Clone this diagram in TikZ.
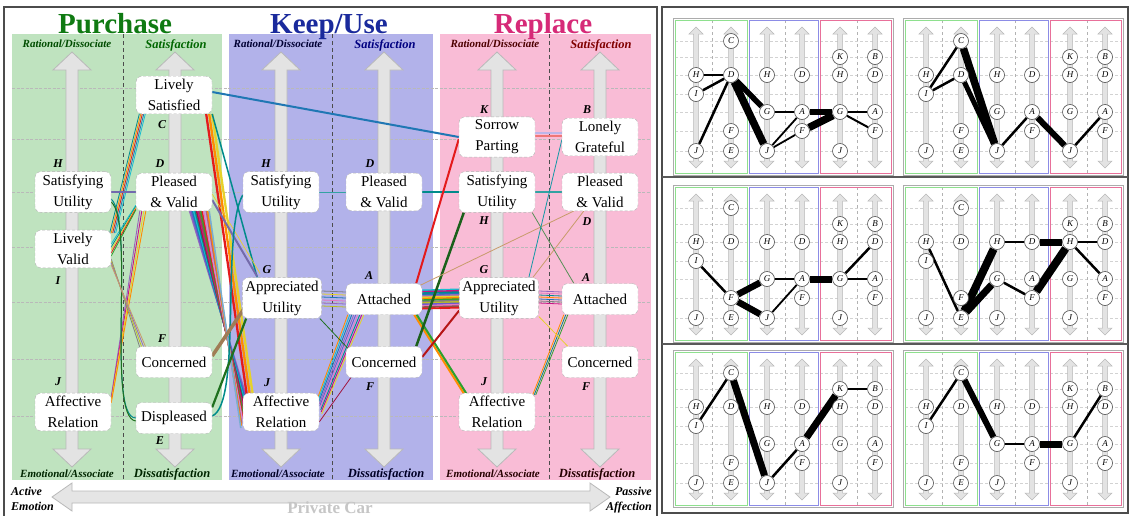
\documentclass[tikz,border=0pt]{standalone}
\usepackage{fontspec}
\setmainfont{Liberation Serif}
\usetikzlibrary{calc}
\pgfdeclarelayer{back}
\pgfdeclarelayer{mid}
\pgfsetlayers{back,mid,main}
\definecolor{bgG}{HTML}{BFE3BF}
\definecolor{bgB}{HTML}{B2B2EA}
\definecolor{bgP}{HTML}{F9BCD6}
\definecolor{tG}{HTML}{0F7A12}
\definecolor{tB}{HTML}{1A2A9C}
\definecolor{tP}{HTML}{D62A78}
\definecolor{mG}{HTML}{8EE08E}
\definecolor{mB}{HTML}{8C8CE6}
\definecolor{mP}{HTML}{E8709A}
\definecolor{c1}{HTML}{E41A1C}
\definecolor{c2}{HTML}{FF8C00}
\definecolor{c3}{HTML}{E6D22A}
\definecolor{c4}{HTML}{2CA02C}
\definecolor{c5}{HTML}{17BECF}
\definecolor{c6}{HTML}{1F77B4}
\definecolor{c7}{HTML}{9467BD}
\definecolor{c8}{HTML}{E377C2}
\definecolor{c9}{HTML}{8C564B}
\definecolor{c10}{HTML}{7F7F7F}
\definecolor{c11}{HTML}{BCBD22}
\definecolor{c12}{HTML}{008B8B}
\definecolor{c13}{HTML}{A0153E}
\definecolor{c14}{HTML}{C71585}
\definecolor{c15}{HTML}{6A5ACD}
\definecolor{c16}{HTML}{C89B6A}
\newcommand\bigvarrow[1]{%
  \filldraw[fill=gray!22, draw=gray!55, line width=0.8] (#1-6,70) -- (#1-19,70) -- (#1,52) -- (#1+19,70) -- (#1+6,70) -- (#1+6,449) -- (#1+19,449) -- (#1,467) -- (#1-19,449) -- (#1-6,449) -- cycle;}
\newcommand\minipanel[4]{%
\begin{scope}[shift={(#2,#3)}]
\begin{pgfonlayer}{back}
 \fill[white] (-2,-2) rectangle (218,155);
 \foreach \yy in {21,37,55,74,92,111,131} \draw[gray!35, line width=0.5, densely dashed] (0,\yy) -- (216,\yy);
 \foreach \xx in {37,110,182} \draw[gray!60, line width=0.5, dashed] (\xx,0) -- (\xx,153);
 \foreach \xx in {21,56,92,127,165,200} \filldraw[fill=gray!22, draw=gray!55, line width=0.5] (\xx-2.5,14) -- (\xx-7,14) -- (\xx,7) -- (\xx+7,14) -- (\xx+2.5,14) -- (\xx+2.5,141) -- (\xx+7,141) -- (\xx,148) -- (\xx-7,141) -- (\xx-2.5,141) -- cycle;
 \draw[gray!65, line width=1] (-2,-2) rectangle (218,155);
 \draw[mG, line width=0.9] (0,0) rectangle (72,153);
 \draw[mB, line width=0.9] (74,0) rectangle (143,153);
 \draw[mP, line width=0.9] (145,0) rectangle (216,153);
\end{pgfonlayer}
\foreach \mname/\mcol/\xx/\yy in {H/1/21/55, I/1/21/74, J/1/21/131, C/2/56/21, D/2/56/55, F/2/56/111, E/2/56/131, H/3/92/55, G/3/92/92, J/3/92/131, D/4/127/55, A/4/127/92, F/4/127/111, K/5/165/37, H/5/165/55, G/5/165/92, J/5/165/131, B/6/200/37, D/6/200/55, A/6/200/92, F/6/200/111}
  \node[mc] (#1\mname\mcol) at (\xx,\yy) {\mname};
\begin{pgfonlayer}{mid}
 \foreach \ea/\eb/\ew in {#4} \draw[line width=\ew] (#1\ea) -- (#1\eb);
\end{pgfonlayer}
\end{scope}}
\begin{document}
\begin{tikzpicture}[x=1pt,y=-1pt,
 nbox/.style={draw=gray!60, densely dashed, fill=white, rounded corners=6, align=center, font=\fontsize{15}{21}\selectfont, minimum width=76, minimum height=31, inner xsep=3, inner ysep=3},
 lett/.style={font=\fontsize{12}{12}\selectfont\bfseries\itshape, inner sep=0},
 hdr/.style={font=\fontsize{11}{11}\selectfont\bfseries\itshape, inner sep=0, anchor=base},
 hdrb/.style={font=\fontsize{12.5}{12.5}\selectfont\bfseries\itshape, inner sep=0, anchor=base},
 ttl/.style={font=\fontsize{29}{29}\selectfont\bfseries, inner sep=0, anchor=base},
 side/.style={font=\fontsize{12}{12}\selectfont\bfseries\itshape, inner sep=0},
 mc/.style={circle, draw=gray!60!black, fill=white, inner sep=0, minimum size=15, font=\fontsize{9}{9}\selectfont\itshape, line width=0.6},
 gridln/.style={gray!55, line width=0.6, dash pattern=on 3pt off 1.5pt},
 sepln/.style={gray!60!black, line width=1, dash pattern=on 4pt off 3pt},
]
\useasboundingbox (0,0) rectangle (1130,515);
\begin{pgfonlayer}{back}
 \fill[white] (0,0) rectangle (1130,515);
 \fill[bgG] (12,34) rectangle (222,480);
 \fill[bgB] (229,34) rectangle (433,480);
 \fill[bgP] (440,34) rectangle (651,480);
 \foreach \y in {88,139,192,247,302,359,416} \draw[gridln] (12,\y) -- (651,\y);
 \foreach \x in {123,332,549} \draw[sepln] (\x,34) -- (\x,480);
 \foreach \x in {72,175,281,384,497,600} \bigvarrow{\x};
 \filldraw[fill=gray!20, draw=gray!55, line width=0.8] (52,497) -- (72,483) -- (72,491) -- (590,491) -- (590,483) -- (610,497) -- (590,511) -- (590,503) -- (72,503) -- (72,511) -- cycle;
 \draw[line width=1.5, black!70] (4,7) rectangle (657,520);
 \draw[line width=1.5, black!70] (662,7) rectangle (1128,513);
 \draw[line width=2, black!65] (662,177) -- (1128,177);
 \draw[line width=2, black!65] (662,344) -- (1128,344);
\end{pgfonlayer}
% titles and headers
\node[ttl, text=tG] (t1) at (115,33) {Purchase};
\node[ttl, text=tB] (t2) at (329,33) {Keep/Use};
\node[ttl, text=tP] (t3) at (543,33) {Replace};
\node[hdr, text=green!30!black] (h1) at (67,47) {Rational/Dissociate};
\node[hdrb, text=green!40!black] (h2) at (176,48) {Satisfaction};
\node[hdr, text=blue!20!black] (h3) at (278,47) {Rational/Dissociate};
\node[hdrb, text=blue!50!black] (h4) at (385,48) {Satisfaction};
\node[hdr, text=red!30!black] (h5) at (495,47) {Rational/Dissociate};
\node[hdrb, text=red!50!black] (h6) at (601,48) {Satisfaction};
\node[hdr, text=green!15!black] (b1) at (67,477) {Emotional/Associate};
\node[hdrb, text=green!15!black] (b2) at (172,477) {Dissatisfaction};
\node[hdr, text=blue!15!black] (b3) at (278,477) {Emotional/Associate};
\node[hdrb, text=blue!15!black] (b4) at (386,477) {Dissatisfaction};
\node[hdr, text=red!15!black] (b5) at (493,477) {Emotional/Associate};
\node[hdrb, text=red!15!black] (b6) at (597,477) {Dissatisfaction};
\node[side, anchor=base west] (s1) at (11,495) {Active};
\node[side, anchor=base west] (s2) at (11,510) {Emotion};
\node[side, anchor=base east] (s3) at (652,495) {Passive};
\node[side, anchor=base east] (s4) at (652,510) {Affection};
\node[font=\fontsize{17}{17}\selectfont\bfseries, text=gray!45, anchor=base, inner sep=0] (pc) at (330,513) {Private Car};
% main nodes
\node[nbox] (pC) at (174,95) {Lively\\Satisfied};
\node[nbox] (pH) at (73,192) {Satisfying\\Utility};
\node[nbox] (pD) at (174,192) {Pleased\\\& Valid};
\node[nbox] (pI) at (73,249) {Lively\\Valid};
\node[nbox] (pF) at (174,362) {Concerned};
\node[nbox] (pJ) at (73,412) {Affective\\Relation};
\node[nbox] (pE) at (174,418) {Displeased};
\node[nbox] (kH) at (281,192) {Satisfying\\Utility};
\node[nbox] (kD) at (384,192) {Pleased\\\& Valid};
\node[nbox] (kG) at (282,298) {Appreciated\\Utility};
\node[nbox] (kA) at (384,299) {Attached};
\node[nbox] (kF) at (384,362) {Concerned};
\node[nbox] (kJ) at (281,412) {Affective\\Relation};
\node[nbox] (rK) at (497,137) {Sorrow\\Parting};
\node[nbox] (rB) at (600,137) {Lonely\\Grateful};
\node[nbox] (rH) at (497,192) {Satisfying\\Utility};
\node[nbox] (rD) at (600,192) {Pleased\\\& Valid};
\node[nbox] (rG) at (499,298) {Appreciated\\Utility};
\node[nbox] (rA) at (600,299) {Attached};
\node[nbox] (rF) at (600,362) {Concerned};
\node[nbox] (rJ) at (497,412) {Affective\\Relation};
% letters
\node[lett] (lpH) at (58,164) {H};
\node[lett] (lpI) at (58,281) {I};
\node[lett] (lpJ) at (58,382) {J};
\node[lett] (lpC) at (162,125) {C};
\node[lett] (lpD) at (160,164) {D};
\node[lett] (lpF) at (162,339) {F};
\node[lett] (lpE) at (160,441) {E};
\node[lett] (lkH) at (266,164) {H};
\node[lett] (lkG) at (267,270) {G};
\node[lett] (lkJ) at (267,383) {J};
\node[lett] (lkD) at (370,164) {D};
\node[lett] (lkA) at (369,276) {A};
\node[lett] (lkF) at (370,387) {F};
\node[lett] (lrK) at (484,110) {K};
\node[lett] (lrH) at (484,221) {H};
\node[lett] (lrG) at (484,270) {G};
\node[lett] (lrJ) at (484,382) {J};
\node[lett] (lrB) at (587,110) {B};
\node[lett] (lrD) at (587,222) {D};
\node[lett] (lrA) at (586,278) {A};
\node[lett] (lrF) at (586,387) {F};
% colored connectors
\begin{pgfonlayer}{mid}
 % purchase internal
 \foreach \c [count=\i] in {c12,c2,c1,c6,c5}
   \draw[\c, line width=0.8] ($(pI.north east)+(-3+\i*1.5,3)$) -- ($(pC.south west)+(2+\i*1.5,0)$);
 \draw[c15!60!gray, line width=1.5] (pH.east) -- (pD.west);
 \foreach \c [count=\i] in {c5,c12,c3,c1,c4}
   \draw[\c, line width=0.8] ($(pI.east)+(0,-8+\i*3)$) -- ($(pD.south west)+(0,-7+\i*1.2)$);
 \foreach \c [count=\i] in {c7,c14,c3,c2}
   \draw[\c, line width=0.9] ($(pJ.north east)+(0,2+\i*2)$) -- ($(pD.south west)+(2+\i*2,0)$);
 \foreach \c [count=\i] in {c12,c4!70!black}
   \draw[\c, line width=1] ($(pH.east)+(0,4+\i*3)$) .. controls ($(pH.east)+(24,30)$) and ($(pE.west)+(-30,0)$) .. ($(pE.west)+(0,-3+\i*3)$);
 \foreach \c [count=\i] in {c10,c11,c7,c16}
   \draw[\c, line width=0.8] ($(pI.east)+(0,8+\i*2)$) -- ($(pF.north west)+(2+\i*2,1)$);
 % purchase to keep/use and beyond
 \draw[c6, line width=2] ($(pC.east)+(0,-3)$) -- (rK.west);
 \foreach \c [count=\i] in {c7,c15,c6,c5,c12,c13,c14,c9,c4,c1,c8,c7!60,c13!70,c2,c6!60}
   \draw[\c, line width=1.6] ($(pD.south east)+(-24+\i*1.4,0)$) -- ($(kJ.north west)+(4-0.4*\i,2+2.2*\i)$);
 \foreach \c/\d in {c3/6,c2/3,c1/0}
   \draw[\c, line width=2.3] ($(pC.south east)+(-6+\d,0)$) -- ($(kJ.north west)+(4+\d,2)$);
 \draw[c12, line width=1.5] (pC.south east) -- ($(kG.north west)+(15,0)$);
 \draw[c15!55!gray, line width=2] ($(pD.east)+(0,8)$) -- ($(kG.north west)+(15,-1)$);
 \draw[c3, line width=0.7] ($(pD.east)+(0,2)$) -- ($(kG.north west)+(18,-4)$);
 \draw[c12, line width=1.5] ($(pE.east)+(0,-2)$) .. controls ($(pE.east)+(30,-15)$) and ($(kH.west)+(-22,40)$) .. ($(kH.west)+(0,3)$);
 \draw[c16!80!black, line width=3.5] ($(pF.east)+(0,-6)$) -- ($(kG.south west)+(2,-10)$);
 \draw[c4!70!black, line width=2.2] ($(pE.north east)+(0,5)$) -- ($(kG.south west)+(4,0)$);
 % keep/use internal
 \draw[c12!80, line width=1] (kH.east) -- (kD.west);
 \foreach \c [count=\i] in {c10,c3,c6,c8,c7,c11}
   \draw[\c, line width=0.8] ($(kG.east)+(0,-10+\i*3)$) -- ($(kA.west)+(0,-10+\i*3)$);
 \foreach \c [count=\i] in {c2,c5,c6,c7,c15,c8,c12,c14,c3}
   \draw[\c, line width=0.9] ($(kJ.north east)+(-2+\i*0.5,3+\i*2)$) -- ($(kA.south west)+(\i*2,0)$);
 \draw[c4!70!black, line width=0.8] ($(kG.south east)+(-2,0)$) -- ($(kF.north west)+(2,2)$);
 \draw[c13, line width=0.8] ($(kJ.east)+(0,10)$) -- ($(kF.south west)+(5,0)$);
 % keep/use to replace
 \draw[c12, line width=2] (kD.east) -- (rH.west);
 \foreach \c [count=\i] in {c5,c14,c12,c6,c7,c3,c2,c4,c10,c11,c15,c8,c9,c1}
   \draw[\c, line width=1.8] ($(kA.east)+(0,-10+\i*1.4)$) -- ($(rG.west)+(0,-10+\i*1.4)$);
 \foreach \c/\d in {c2/0,c4/2.5}
   \draw[\c, line width=2] ($(kA.south east)+(-8+\d,0)$) -- ($(rJ.north west)+(6+\d,2)$);
 \draw[c1, line width=2] ($(kA.north east)+(-6,0)$) -- ($(rK.west)+(0,2)$);
 \draw[c4!60!black, line width=2.5] ($(kF.north east)+(-6,0)$) -- ($(rH.south west)+(5,0)$);
 \draw[c1!80!black, line width=2] ($(kF.east)+(0,-5)$) -- ($(rG.south west)+(0,-8)$);
 \draw[c16, line width=0.8] ($(kA.north east)+(-2,2)$) -- ($(rD.south west)+(12,0)$);
 % replace internal
 \draw[c15!45, line width=1.5] ($(rK.east)+(0,-4)$) -- ($(rB.west)+(0,-4)$);
 \draw[c1!60, line width=1.5] ($(rK.east)+(0,-1)$) -- ($(rB.west)+(0,-1)$);
 \draw[c12!80, line width=1.2] (rH.east) -- (rD.west);
 \draw[c4!50!gray, line width=0.8] ($(rH.south east)+(-3,0)$) -- ($(rA.north west)+(12,0)$);
 \draw[c5!80!black, line width=0.8] ($(rG.north east)+(-10,0)$) -- ($(rB.west)+(0,3)$);
 \draw[c16, line width=0.8] ($(rG.north east)+(-6,0)$) -- ($(rD.south west)+(22,0)$);
 \foreach \c [count=\i] in {c7,c8,c12,c2,c6,c10,c14}
   \draw[\c, line width=0.8] ($(rG.east)+(0,-9+\i*2)$) -- ($(rA.west)+(0,-9+\i*2)$);
 \foreach \c [count=\i] in {c2,c12,c4}
   \draw[\c, line width=0.8] ($(rJ.north east)+(-4+\i*1.5,2)$) -- ($(rA.south west)+(\i*2,0)$);
 \draw[c3, line width=0.8] ($(rG.south east)+(0,-2)$) -- ($(rF.north west)+(6,0)$);
\end{pgfonlayer}
% mini panels
\minipanel{ma}{675}{20}{H1/D2/2.5, I1/D2/2.5, J1/D2/2.5, D2/G3/5.5, D2/J3/7.5, G3/A4/2.5, J3/A4/1.8, J3/F4/1.8, A4/G5/5.5, F4/G5/7.5, G5/A6/2.5, G5/F6/2}
\minipanel{mb}{905}{20}{I1/C2/2.5, I1/D2/2.5, C2/J3/7.5, D2/J3/5, J3/A4/2.5, A4/J5/6, J5/A6/2.5}
\minipanel{mc}{675}{187}{I1/F2/2.5, F2/G3/6.5, F2/J3/6.5, G3/A4/2.5, J3/A4/1.8, A4/G5/7, G5/D6/2.5, G5/A6/2.5}
\minipanel{md}{905}{187}{H1/E2/2.5, E2/H3/8, E2/G3/7, H3/D4/2.5, G3/F4/2.5, D4/H5/7, F4/H5/8, H5/D6/2.5, H5/A6/2.5}
\minipanel{me}{675}{352}{I1/C2/2.5, C2/J3/7, J3/A4/2.5, A4/K5/7, K5/B6/2.5}
\minipanel{mf}{905}{352}{I1/C2/2.5, C2/G3/6, G3/A4/2.5, A4/G5/7, G5/B6/2.5}
\end{tikzpicture}
\end{document}
